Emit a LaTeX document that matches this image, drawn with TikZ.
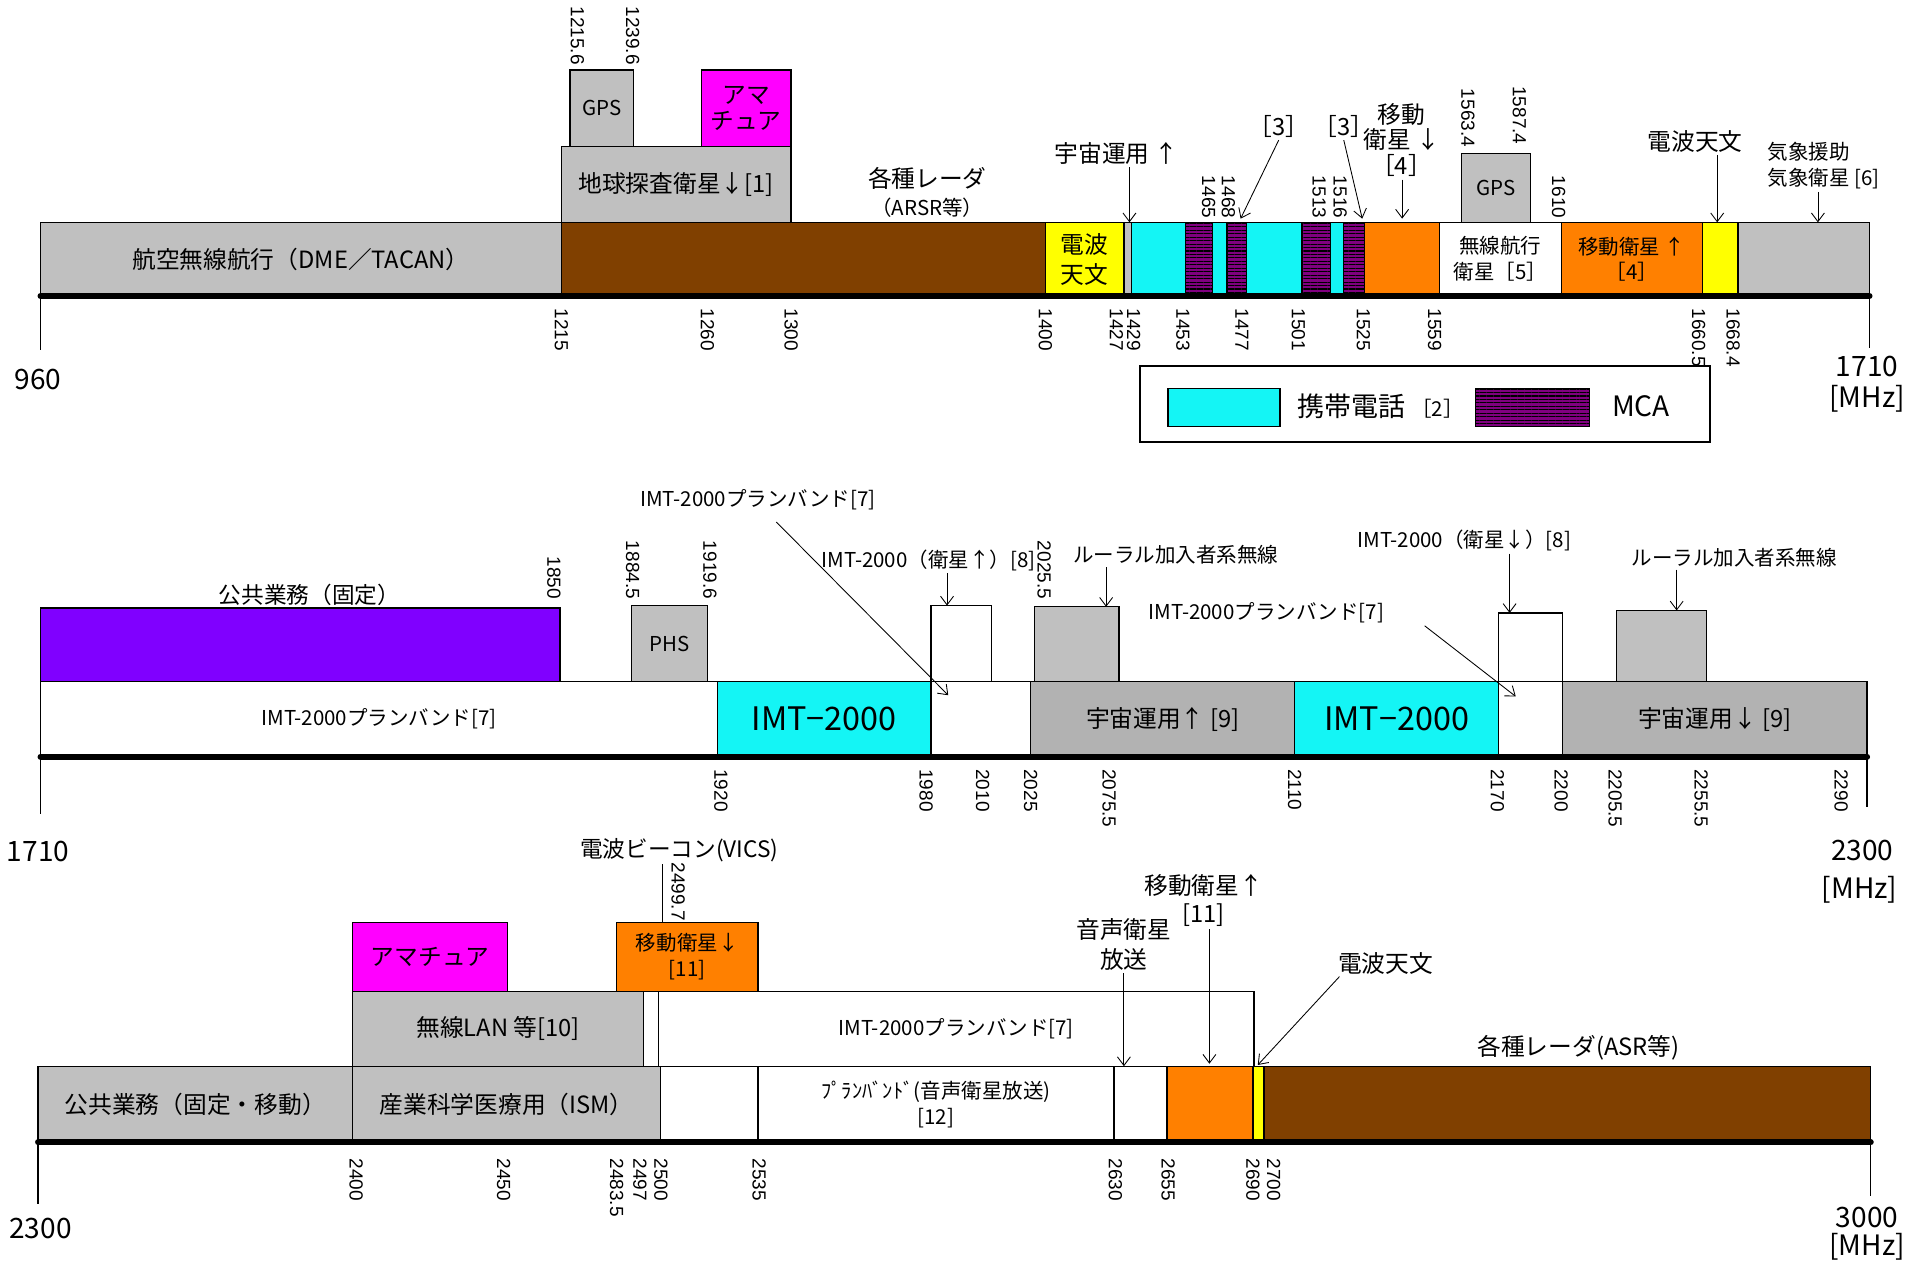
\documentclass[tikz,border=0pt]{standalone}
\usepackage{fontspec}
\setmainfont{Noto Sans CJK JP}
\newfontfamily\numfont{Liberation Sans}
\usepackage{xcolor}
\definecolor{BandGray}{RGB}{192,192,192}
\definecolor{SpaceGray}{RGB}{178,178,178}
\definecolor{RadarBrown}{RGB}{128,64,0}
\definecolor{AstroYellow}{RGB}{255,255,0}
\definecolor{MobOrange}{RGB}{255,128,0}
\definecolor{AmaMagenta}{RGB}{255,0,255}
\definecolor{CellCyan}{RGB}{20,245,245}
\definecolor{McaPurple}{RGB}{128,0,128}
\definecolor{PubViolet}{RGB}{128,0,255}
\usetikzlibrary{arrows.meta, patterns.meta}
\tikzset{
  % Frequency band rectangles
  band/.style={draw=black, line width=0.6pt, fill=white},
  band gray/.style={band, fill=BandGray},
  band space/.style={band, fill=SpaceGray},
  band brown/.style={band, fill=RadarBrown},
  band yellow/.style={band, fill=AstroYellow},
  band orange/.style={band, fill=MobOrange},
  band magenta/.style={band, fill=AmaMagenta},
  band cyan/.style={band, fill=CellCyan},
  band violet/.style={band, fill=PubViolet},
  band mca/.style={draw=black, line width=0.6pt, preaction={fill=McaPurple},
    pattern={Lines[angle=0,distance=1.6pt,line width=0.5pt]}, pattern color=black},
  % Axis
  axis/.style={line width=2.8pt, line cap=round},
  endline/.style={line width=0.6pt},
  % Labels
  lbl/.style={font=\fontsize{11}{13}\selectfont, align=center, inner sep=1pt},
  slbl/.style={font=\fontsize{9.5}{12}\selectfont, align=center, inner sep=1pt},
  biglbl/.style={font=\fontsize{15}{16}\selectfont, inner sep=1pt},
  endlbl/.style={font=\fontsize{13}{15}\selectfont, inner sep=0pt},
  tick/.style={font=\numfont\fontsize{8.8}{9}\selectfont, rotate=-90, inner sep=0pt},
  tick dn/.style={tick, anchor=west},
  tick up/.style={tick, anchor=east},
  % Arrows
  arr/.style={-{Straight Barb[length=4pt,width=6pt]}, line width=0.4pt},
}

\begin{document}
\begin{tikzpicture}[x=0.02cm, y=-0.02cm]
  \useasboundingbox (0,0) rectangle (1568,1028);

  %% ===== 960 - 1710 MHz =====
  \path[band gray] (33,181) rectangle (457,241) node[midway, lbl] (dme) {航空無線航行（DME／TACAN）};
  \path[band brown] (457,181) rectangle (851,241);
  \path[band yellow] (851,181) rectangle (915,241) node[midway, lbl, font=\fontsize{11}{14}\selectfont] (ra1) {電波\\天文};
  \path[band gray] (915,181) rectangle (921,241);
  \foreach \a/\b in {921/965, 987/999, 1015/1060, 1083/1094}
    \path[band cyan] (\a,181) rectangle (\b,241);
  \foreach \a/\b in {965/987, 999/1015, 1060/1083, 1094/1111}
    \path[band mca] (\a,181) rectangle (\b,241);
  \path[band orange] (1111,181) rectangle (1172,241);
  \path[band] (1172,181) rectangle (1271,241) node[midway, slbl] (rnss) {無線航行\\衛星［5］};
  \path[band orange] (1271,181) rectangle (1386,241) node[midway, slbl] (mss4) {移動衛星 ↑\\［4］};
  \path[band yellow] (1386,181) rectangle (1415,241);
  \path[band gray] (1415,181) rectangle (1522,241);

  %% upper bands
  \path[band gray] (457,119) rectangle (644,181) node[midway, lbl] (eess) {地球探査衛星↓[1]};
  \path[band gray] (464,57) rectangle (516,119) node[midway, slbl] (gps1) {GPS};
  \path[band magenta] (571,57) rectangle (644,119) node[midway, lbl, font=\fontsize{11}{12}\selectfont] (ama1) {アマ\\チュア};
  \path[band gray] (1190,125) rectangle (1246,181) node[midway, slbl] (gps2) {GPS};

  %% axis
  \coordinate (a1l) at (33,241);
  \coordinate (a1r) at (1522,241);
  \draw[axis] (a1l) -- (a1r);
  \draw[endline] (a1l) -- ++(0,44);
  \draw[endline] (a1r) -- ++(0,42);
  \node[endlbl] (f960) at (31,309) {960};
  \node[endlbl] (f1710a) at (1520,298) {1710};
  \node[endlbl] (mhz1) at (1520,325) {[MHz]};

  %% tick labels
  \foreach \x/\f in {457/1215, 576/1260, 644/1300, 851/1400, 909/1427, 923/1429, 963/1453,
                     1011/1477, 1057/1501, 1110/1525, 1168/1559, 1383/1660.5, 1411/1668.4}
    \node[tick dn] (r1d\x) at (\x,251) {\f};
  \foreach \x/\f in {984/1465, 1000/1468, 1074/1513, 1091/1516, 1269/1610}
    \node[tick up] (r1u\x) at (\x,178) {\f};
  \node[tick up] (r1g1) at (470,53) {1215.6};
  \node[tick up] (r1g2) at (515,53) {1239.6};
  \node[tick up] (r1g3) at (1195,120) {1563.4};
  \node[tick up] (r1g4) at (1237,118) {1587.4};

  %% annotations
  \node[lbl] (radar1) at (755,157) {各種レーダ\\{\fontsize{9.5}{11}\selectfont（ARSR等）}};
  \node[lbl] (sop1) at (909,125) {宇宙運用 ↑};
  \coordinate (t1428) at (919.5,181);
  \draw[arr] (sop1.south -| t1428) -- (t1428);
  \node[lbl] (bnd3a) at (1041,103) {［3］};
  \coordinate (t1468) at (1010,178);
  \draw[arr] (bnd3a.south) -- (t1468);
  \node[lbl] (bnd3b) at (1094,103) {［3］};
  \coordinate (t1516) at (1109,178);
  \draw[arr] (bnd3b.south) -- (t1516);
  \node[lbl, font=\fontsize{11}{12}\selectfont] (mss4d) at (1141,114) {移動\\衛星 ↓\\［4］};
  \coordinate (t1540) at (1141.5,178);
  \draw[arr] (mss4d.south -| t1540) -- (t1540);
  \node[lbl] (ra2) at (1380,115) {電波天文};
  \coordinate (t1664) at (1398,181);
  \draw[arr] (ra2.south -| t1664) -- (t1664);
  \node[slbl, align=left, anchor=west] (met) at (1437,135) {気象援助\\気象衛星 [6]};
  \coordinate (t1690) at (1480,181);
  \draw[arr] (met.south -| t1690) -- (t1690);

  %% legend
  \path[draw, line width=1pt] (928,298) rectangle (1392,360);
  \path[band cyan] (951,316) rectangle (1042,347);
  \node[font=\fontsize{12.5}{14}\selectfont, anchor=west] (lgcell) at (1050,331) {携帯電話 {\fontsize{9.5}{11}\selectfont［2］}};
  \path[band mca] (1201,316) rectangle (1294,347);
  \node[font=\fontsize{13}{14}\selectfont] (lgmca) at (1336,331) {MCA};

  %% ===== 1710 - 2300 MHz =====
  \path[band] (33,555) rectangle (584,616) node[midway, slbl] (imtpb1) {IMT-2000プランバンド[7]};
  \path[band cyan] (584,555) rectangle (758,616) node[midway, biglbl] (imt1) {IMT−2000};
  \path[band] (758,555) rectangle (839,616);
  \path[band space] (839,555) rectangle (1054,616) node[midway, lbl] (sop2) {宇宙運用↑ [9]};
  \path[band cyan] (1054,555) rectangle (1220,616) node[midway, biglbl] (imt2) {IMT−2000};
  \path[band] (1220,555) rectangle (1272,616);
  \path[band space] (1272,555) rectangle (1520,616) node[midway, lbl] (sop3) {宇宙運用↓ [9]};

  %% upper bands
  \path[band violet] (33,495) rectangle (456,555);
  \path[band gray] (514,493) rectangle (576,555) node[midway, slbl] (phs) {PHS};
  \path[band] (758,493) rectangle (807,555);
  \path[band gray] (842,494) rectangle (911,555);
  \path[band] (1220,499) rectangle (1272,555);
  \path[band gray] (1316,497) rectangle (1389,555);

  %% axis
  \coordinate (a2l) at (33,616);
  \coordinate (a2r) at (1520,616);
  \draw[axis] (a2l) -- (a2r);
  \draw[endline] (a2l) -- ++(0,47);
  \draw[endline] (a2r) -- ++(0,41);
  \node[endlbl] (f1710b) at (31,693) {1710};
  \node[endlbl] (f2300a) at (1516,692) {2300};
  \node[endlbl] (mhz2) at (1514,724) {[MHz]};

  %% tick labels
  \foreach \x/\f in {587/1920, 754/1980, 800/2010, 839/2025, 903/2075.5, 1054/2110, 1219/2170,
                     1271/2200, 1315/2205.5, 1385/2255.5, 1499/2290}
    \node[tick dn] (r2d\x) at (\x,626) {\f};
  \foreach \x/\f in {451/1850, 515/1884.5, 578/1919.6, 850/2025.5}
    \node[tick up] (r2u\x) at (\x,488) {\f};

  %% annotations
  \node[lbl, font=\fontsize{10.5}{12}\selectfont] (pub1) at (252,484) {公共業務（固定）};
  \node[slbl] (imtpb2) at (617,407) {IMT-2000プランバンド[7]};
  \coordinate (t1995) at (772,566);
  \draw[arr] ([xshift=0.3cm, yshift=-0.15cm]imtpb2.south) -- (t1995);
  \node[slbl] (imts1) at (756,456) {IMT-2000（衛星↑）[8]};
  \coordinate (t1995u) at (771,493);
  \draw[arr] (imts1.south -| t1995u) -- (t1995u);
  \node[slbl] (rural1) at (957,452) {ルーラル加入者系無線};
  \coordinate (t2050) at (900.5,494);
  \draw[arr] (rural1.south -| t2050) -- (t2050);
  \node[slbl] (imtpb3) at (1031,499) {IMT-2000プランバンド[7]};
  \coordinate (t2185) at (1234,567);
  \draw[arr] ([xshift=0.62cm]imtpb3.south east) -- (t2185);
  \node[slbl] (imts2) at (1192,440) {IMT-2000（衛星↓）[8]};
  \coordinate (t2185u) at (1229,499);
  \draw[arr] (imts2.south -| t2185u) -- (t2185u);
  \node[slbl] (rural2) at (1412,454) {ルーラル加入者系無線};
  \coordinate (t2230) at (1365,497);
  \draw[arr] (rural2.south -| t2230) -- (t2230);

  %% ===== 2300 - 3000 MHz =====
  \path[band gray] (31,868) rectangle (287,930) node[midway, lbl] (pub2) {公共業務（固定・移動）};
  \path[band gray] (287,868) rectangle (538,930) node[midway, lbl] (ism) {産業科学医療用（ISM）};
  \path[band] (538,868) rectangle (617,930);
  \path[band] (617,868) rectangle (907,930) node[midway, slbl] (sdab) {ﾌﾟﾗﾝﾊﾞﾝﾄﾞ(音声衛星放送)\\{[12]}};
  \path[band] (907,868) rectangle (950,930);
  \path[band orange] (950,868) rectangle (1020,930);
  \path[band yellow] (1020,868) rectangle (1029,930);
  \path[band brown] (1029,868) rectangle (1523,930);

  %% upper bands
  \path[band gray] (287,807) rectangle (524,868) node[midway, lbl] (wlan) {無線LAN 等[10]};
  \path[band] (536,807) rectangle (1021,868) node[midway, slbl] (imtpb4) {IMT-2000プランバンド[7]};
  \path[band magenta] (287,751) rectangle (413,807) node[midway, lbl] (ama2) {アマチュア};
  \path[band orange] (502,751) rectangle (617,807) node[midway, slbl] (mss11d) {移動衛星↓\\{[11]}};

  %% axis
  \coordinate (a3l) at (31,930);
  \coordinate (a3r) at (1523,930);
  \draw[axis] (a3l) -- (a3r);
  \draw[endline] (a3l) -- ++(0,50);
  \draw[endline] (a3r) -- ++(0,44);
  \node[endlbl] (f2300b) at (33,1000) {2300};
  \node[endlbl] (f3000) at (1520,991) {3000};
  \node[endlbl] (mhz3) at (1520,1015) {[MHz]};

  %% tick labels
  \foreach \x/\f in {290/2400, 410/2450, 502/2483.5, 521/2497, 538/2500, 618/2535,
                     908/2630, 951/2655, 1020/2690, 1037/2700}
    \node[tick dn] (r3d\x) at (\x,943) {\f};

  %% annotations
  \node[lbl, font=\fontsize{10.5}{12}\selectfont] (vics) at (553,692) {電波ビーコン(VICS)};
  \coordinate (t2499) at (539.6,751);
  \draw[endline] (vics.south -| t2499) -- (t2499);
  \node[tick dn] (r3v) at (552,702) {2499.7};
  \node[lbl, font=\fontsize{11}{14}\selectfont] (sdab2) at (915,769) {音声衛星\\放送};
  \coordinate (t2640) at (915,868);
  \draw[arr] (sdab2.south -| t2640) -- (t2640);
  \node[lbl, font=\fontsize{11}{13}\selectfont] (mss11u) at (980,733) {移動衛星↑\\{[11]}};
  \coordinate (t2670) at (984.6,866);
  \draw[arr] (mss11u.south -| t2670) -- (t2670);
  \node[lbl] (ra3) at (1128,784) {電波天文};
  \coordinate (t2695) at (1024,867);
  \draw[arr] ([xshift=-0.75cm]ra3.south) -- (t2695);
  \node[lbl] (radar2) at (1285,853) {各種レーダ(ASR等)};

\end{tikzpicture}
\end{document}
